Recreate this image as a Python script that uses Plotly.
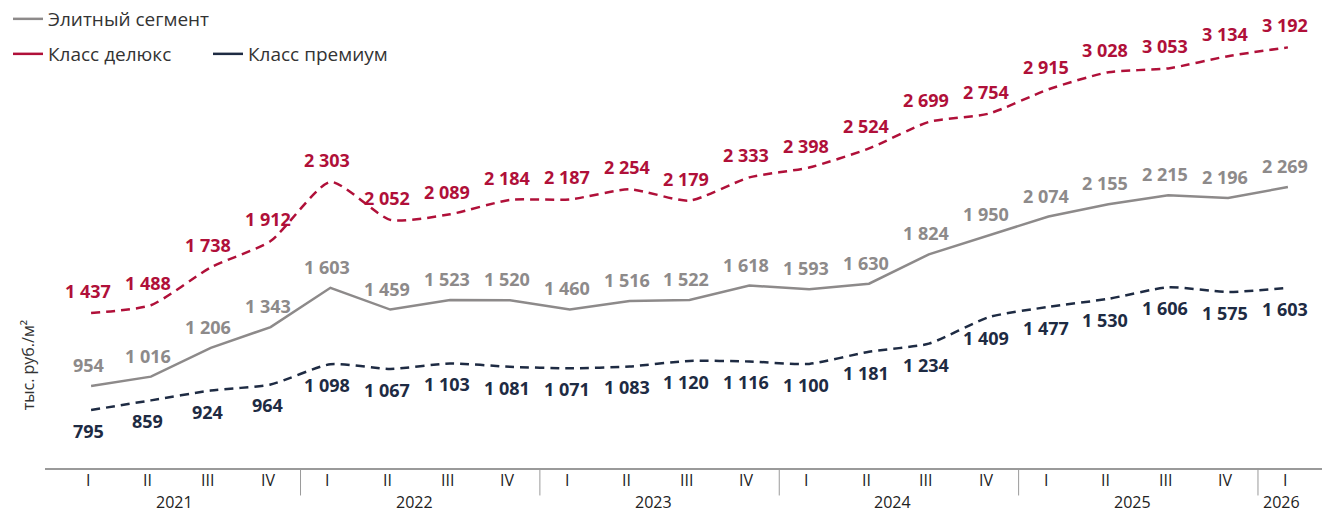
import plotly.graph_objects as go

quarters = ["I", "II", "III", "IV"] * 5 + ["I"]
years = ["2021", "2022", "2023", "2024", "2025", "2026"]
year_centers = [1.5, 5.5, 9.5, 13.5, 17.5, 20]
year_bounds = [3.5, 7.5, 11.5, 15.5, 19.5]

elite = [954, 1016, 1206, 1343, 1603, 1459, 1523, 1520, 1460, 1516, 1522,
         1618, 1593, 1630, 1824, 1950, 2074, 2155, 2215, 2196, 2269]
deluxe = [1437, 1488, 1738, 1912, 2303, 2052, 2089, 2184, 2187, 2254, 2179,
          2333, 2398, 2524, 2699, 2754, 2915, 3028, 3053, 3134, 3192]
premium = [795, 859, 924, 964, 1098, 1067, 1103, 1081, 1071, 1083, 1120,
           1116, 1100, 1181, 1234, 1409, 1477, 1530, 1606, 1575, 1603]

names = ["Элитный сегмент", "Класс делюкс", "Класс премиум"]
C_ELITE = "#8d8a8a"
C_DELUXE = "#b01039"
C_PREM = "#1e2b43"

FONT = "Open Sans"
x = list(range(len(quarters)))


def fmt(v):
    return f"{v:,}".replace(",", " ")


fig = go.Figure()

fig.add_trace(go.Scatter(x=x, y=elite, mode="lines", showlegend=False,
                         line=dict(color=C_ELITE, width=2.5)))
fig.add_trace(go.Scatter(x=x, y=deluxe, mode="lines", showlegend=False,
                         line=dict(color=C_DELUXE, width=2.5, dash="9px,6px",
                                   shape="spline", smoothing=0.6)))
fig.add_trace(go.Scatter(x=x, y=premium, mode="lines", showlegend=False,
                         line=dict(color=C_PREM, width=2.5, dash="9px,6px",
                                   shape="spline", smoothing=0.6)))

# legend entries (solid line samples)
fig.add_trace(go.Scatter(x=[None], y=[None], mode="lines", name=names[0],
                         line=dict(color=C_ELITE, width=2.5), legend="legend"))
fig.add_trace(go.Scatter(x=[None], y=[None], mode="lines", name=names[1],
                         line=dict(color=C_DELUXE, width=2.5), legend="legend2"))
fig.add_trace(go.Scatter(x=[None], y=[None], mode="lines", name=names[2],
                         line=dict(color=C_PREM, width=2.5), legend="legend2"))

for series, color, ys in [(elite, C_ELITE, 21), (deluxe, C_DELUXE, 22), (premium, C_PREM, -21)]:
    for xi, v in zip(x, series):
        fig.add_annotation(x=xi, y=v, text=fmt(v), showarrow=False,
                           xref="x", yref="y", yshift=ys, xshift=-3,
                           font=dict(family=FONT, size=18, color=color, weight=700))

for xi, q in zip(x, quarters):
    fig.add_annotation(x=xi, y=-0.026, xref="x", yref="paper", text=q,
                       showarrow=False, xshift=-3, yanchor="middle",
                       font=dict(family=FONT, size=16, color="#222222"))

for xc, yr in zip(year_centers, years):
    fig.add_annotation(x=xc, y=-0.074, xref="x", yref="paper", text=yr,
                       showarrow=False, xshift=-6, yanchor="middle",
                       font=dict(family=FONT, size=16, color="#222222"))

for b in year_bounds:
    fig.add_shape(type="line", x0=b, x1=b, xref="x", yref="paper",
                  y0=0, y1=-0.06, line=dict(color="#9a9a9a", width=1))

fig.add_annotation(x=-0.013, y=0.225, xref="paper", yref="paper",
                   text="тыс. руб./м²", textangle=-90, showarrow=False,
                   xanchor="center", yanchor="middle",
                   font=dict(family=FONT, size=16, color="#333333"))

fig.update_layout(
    width=1322, height=514,
    margin=dict(l=45, r=0, t=10, b=46, autoexpand=False),
    paper_bgcolor="white", plot_bgcolor="white",
    font=dict(family=FONT, color="#333333"),
    xaxis=dict(range=[-0.77, 20.57], showticklabels=False,
               showgrid=False, zeroline=False,
               showline=True, linecolor="#9a9a9a", linewidth=1.5, ticks=""),
    yaxis=dict(range=[412, 3439], showgrid=False, zeroline=False,
               showticklabels=False, showline=False),
    legend=dict(x=8 / 1322, y=1, xref="container", yref="container",
                xanchor="left", yanchor="top",
                font=dict(family=FONT, size=19, color="#333333"),
                bgcolor="rgba(0,0,0,0)"),
    legend2=dict(x=8 / 1322, y=1 - 35 / 514, xref="container", yref="container",
                 xanchor="left", yanchor="top",
                 orientation="h", entrywidth=155, entrywidthmode="pixels",
                 font=dict(family=FONT, size=19, color="#333333"),
                 bgcolor="rgba(0,0,0,0)"),
)

fig.write_html("out.html", config={"displayModeBar": False},
               post_script="document.body.style.margin='0';document.body.style.overflow='hidden';")
